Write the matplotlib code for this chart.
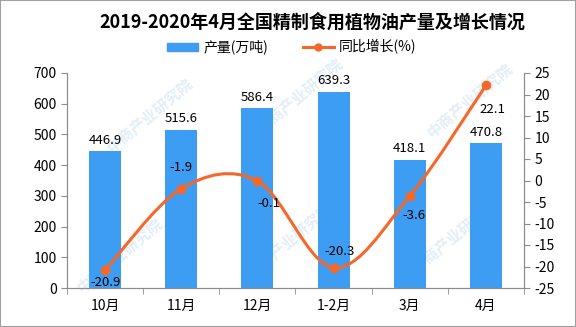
import numpy as np
import matplotlib
matplotlib.use('Agg')
import matplotlib.pyplot as plt
from matplotlib.path import Path
from matplotlib.patches import PathPatch, Rectangle
from matplotlib.lines import Line2D
from matplotlib.patches import Patch

plt.rcParams['font.family'] = ['Noto Sans CJK SC', 'DejaVu Sans']
plt.rcParams['axes.unicode_minus'] = False

# 数据
months = ['10月', '11月', '12月', '1-2月', '3月', '4月']
output = [446.9, 515.6, 586.4, 639.3, 418.1, 470.8]
growth = [-20.9, -1.9, -0.1, -20.3, -3.6, 22.1]
# 增长率标签偏移(points)
growth_off = [(0, -9), (0, 15), (8, -16), (4, 11.5), (3, -14), (5, -17)]

bar_color = '#3d9df2'
line_color = '#f5682a'
grey = '#8c8c8c'

fig = plt.figure(figsize=(5.76, 3.27), dpi=100)
ax = fig.add_axes([67 / 576, 1 - 288 / 327, (524 - 67) / 576, (288 - 73) / 327])
ax.patch.set_visible(False)

# 水印(淡色, 放在图形后面)
wm = [(150, 115), (300, 95), (470, 100), (120, 255), (290, 240), (455, 235)]
for wx, wy in wm:
    fig.text(wx / 576, 1 - wy / 327, '中商产业研究院', color='#e3eef7', fontsize=11,
             rotation=40, ha='center', va='center', fontweight='bold', zorder=-1)

x = np.arange(len(months))
ax.bar(x, output, width=0.42, color=bar_color, zorder=2)
ax.set_xlim(-0.5, len(months) - 0.5)
ax.set_ylim(0, 700)
ax.set_yticks(range(0, 701, 100))
for xi, v in zip(x, output):
    ax.annotate(f'{v:.1f}', (xi, v), xytext=(0, 3), textcoords='offset points',
                ha='center', va='bottom', fontsize=9.5, color='black')

ax2 = ax.twinx()
ax2.set_ylim(-25, 25)
ax2.set_yticks(range(-25, 26, 5))

# 平滑曲线
pts = np.column_stack([x, growth]).astype(float)
ext = np.vstack([pts[0], pts, pts[-1]])
verts = [tuple(pts[0])]
codes = [Path.MOVETO]
for i in range(len(pts) - 1):
    p0, p1, p2, p3 = ext[i], ext[i + 1], ext[i + 2], ext[i + 3]
    b1 = p1 + (p2 - p0) / 6
    b2 = p2 - (p3 - p1) / 6
    verts += [tuple(b1), tuple(b2), tuple(p2)]
    codes += [Path.CURVE4] * 3
ax2.add_patch(PathPatch(Path(verts, codes), facecolor='none', edgecolor=line_color,
                        lw=2.2, zorder=3))
ax2.plot(x, growth, 'o', color=line_color, ms=6, zorder=4)
for xi, v, (dx, dy) in zip(x, growth, growth_off):
    ax2.annotate(f'{v}', (xi, v), xytext=(dx, dy), textcoords='offset points',
                 ha='center', va='center', fontsize=9.5, color='black', zorder=5)

# 坐标轴样式
for a in (ax, ax2):
    a.spines['top'].set_visible(False)
    for s in ('left', 'right', 'bottom'):
        a.spines[s].set_color(grey)
    a.tick_params(colors=grey, labelcolor='black', labelsize=10, length=4)
ax.set_xticks(x)
ax.set_xticklabels(months, fontsize=10)
ax.tick_params(axis='x', length=0, pad=8)
ax.set_xticks(np.arange(-0.5, len(months), 1), minor=True)
ax.tick_params(axis='x', which='minor', length=4, color=grey)

fig.text(312 / 576, 1 - 22 / 327, '2019-2020年4月全国精制食用植物油产量及增长情况',
         ha='center', va='center', fontsize=13, fontweight='bold')

handles = [Patch(color=bar_color, label='产量(万吨)'),
           Line2D([], [], color=line_color, lw=2.2, marker='o', ms=5, label='同比增长(%)')]
fig.legend(handles=handles, loc='center', bbox_to_anchor=(292 / 576, 1 - 47 / 327),
           ncol=2, frameon=False, fontsize=10, handlelength=2.2, handleheight=0.5,
           columnspacing=2.5, handletextpad=0.4)

fig.patches.append(Rectangle((0, 0), 1, 1, transform=fig.transFigure, fill=False,
                             edgecolor='#a0a0a0', lw=1.5))

fig.savefig('out.png', dpi=100)
